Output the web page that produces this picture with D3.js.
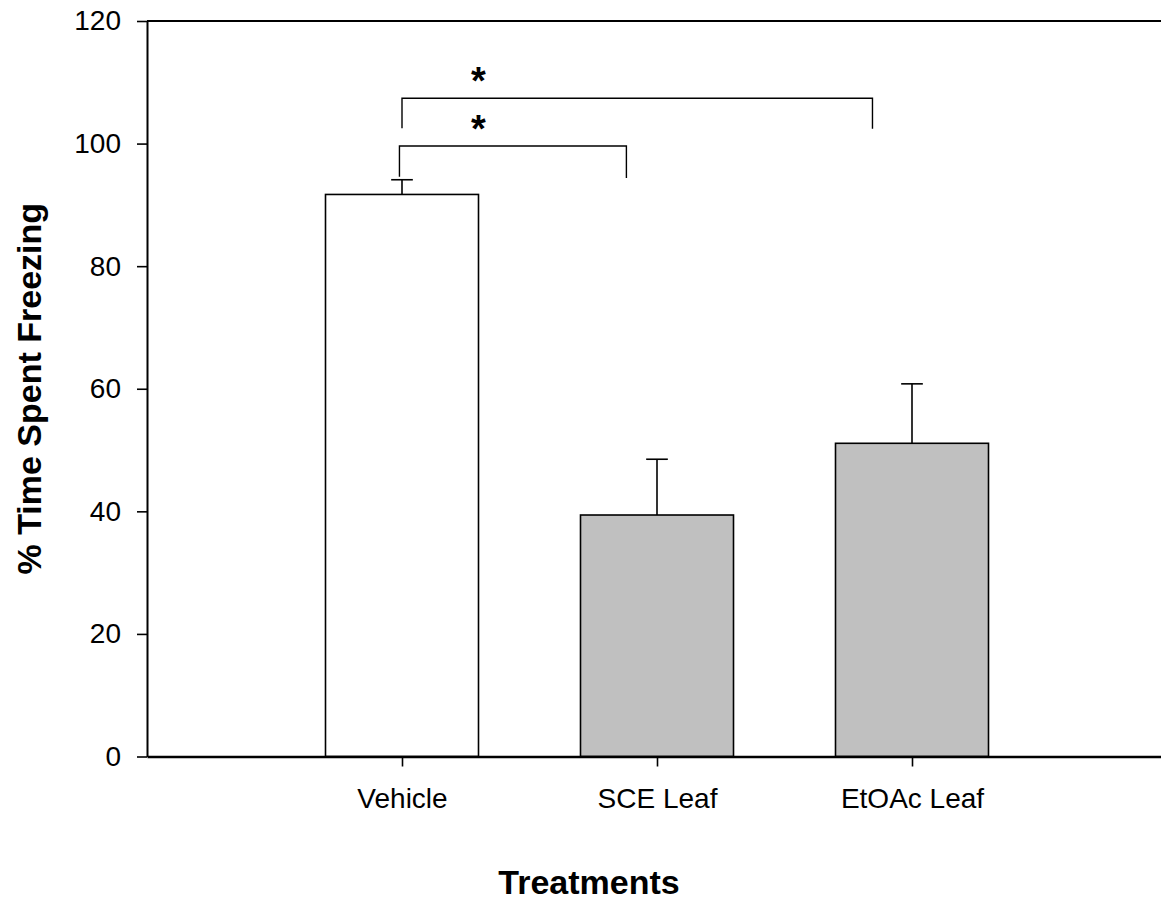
<!DOCTYPE html>
<html>
<head>
<meta charset="utf-8">
<script src="https://cdn.jsdelivr.net/npm/d3@7"></script>
<style>
  html, body { margin: 0; padding: 0; background: #ffffff; }
  svg { display: block; }
  text { font-family: Arial, "Liberation Sans", Helvetica, sans-serif; fill: #000; }
</style>
</head>
<body>
<svg id="chart" width="1161" height="900"></svg>
<script>
// Group means and SEM (upper error bars only)
const categories = ["Vehicle", "SCE Leaf", "EtOAc Leaf"];
const means = [91.7, 39.4, 51.1];
const sem = [2.4, 9.1, 9.7];
const fills = ["#ffffff", "#c0c0c0", "#c0c0c0"];
const yTicks = [0, 20, 40, 60, 80, 100, 120];

// Significance brackets: from group position to end position, bar height, leg ends
const bracketFrom = [0.99, 1.0];
const bracketTo = [1.88, 2.845];
const bracketLevel = [99.6, 107.4];
const bracketLegs = [[94.6, 94.4], [102.5, 102.4]];
const starPos = [1.3, 1.3];
const starLevel = [99.6, 107.4];

const svg = d3.select("#chart");

// Category positions 1..3 on a 0..4 frame (right edge runs past the page)
const x = d3.scaleLinear().domain([0, 4]).range([147, 1167]);
const y = d3.scaleLinear().domain([0, 120]).range([756.5, 21]);

const barW = x(0.6) - x(0);
const capW = x(0.085) - x(0);

// Bars
svg.append("g").selectAll("rect")
  .data(means)
  .join("rect")
  .attr("x", (d, i) => x(i + 1) - barW / 2)
  .attr("y", d => y(d))
  .attr("width", barW)
  .attr("height", d => y(0) - y(d))
  .attr("fill", (d, i) => fills[i])
  .attr("stroke", "#000")
  .attr("stroke-width", 1.6);

// Error bars (upper)
const eg = svg.append("g").attr("stroke", "#000").attr("stroke-width", 1.6);
means.forEach((m, i) => {
  const cx = x(i + 1);
  eg.append("line").attr("x1", cx).attr("x2", cx).attr("y1", y(m)).attr("y2", y(m + sem[i]));
  eg.append("line").attr("x1", cx - capW / 2).attr("x2", cx + capW / 2)
    .attr("y1", y(m + sem[i])).attr("y2", y(m + sem[i]));
});

// Frame top line
svg.append("line")
  .attr("x1", x(0)).attr("x2", x(4))
  .attr("y1", y(120)).attr("y2", y(120))
  .attr("stroke", "#000").attr("stroke-width", 2);

// Y axis
const yAxis = svg.append("g")
  .attr("transform", `translate(${x(0)},0)`)
  .call(d3.axisLeft(y).tickValues(yTicks).tickSize(10).tickPadding(16).tickSizeOuter(0));
yAxis.select(".domain").attr("stroke-width", 2);
yAxis.selectAll(".tick line").attr("stroke-width", 1.6);
yAxis.selectAll(".tick text")
  .style("font-size", "28px")
  .style("font-family", "Arial, 'Liberation Sans', sans-serif")
  .attr("fill", "#000");

// X axis
const xAxis = svg.append("g")
  .attr("transform", `translate(0,${y(0)})`)
  .call(d3.axisBottom(x).tickValues([1, 2, 3]).tickFormat((d) => categories[d - 1])
    .tickSize(10).tickPadding(22).tickSizeOuter(0));
xAxis.select(".domain").attr("stroke-width", 2.4);
xAxis.selectAll(".tick line").attr("stroke-width", 1.6);
xAxis.selectAll(".tick text")
  .style("font-size", "28px")
  .style("font-family", "Arial, 'Liberation Sans', sans-serif")
  .attr("fill", "#000");

// Significance brackets
const bg = svg.append("g").attr("stroke", "#000").attr("stroke-width", 1.4).attr("fill", "none");
bracketFrom.forEach((f, i) => {
  const pts = [
    [x(f), y(bracketLegs[i][0])],
    [x(f), y(bracketLevel[i])],
    [x(bracketTo[i]), y(bracketLevel[i])],
    [x(bracketTo[i]), y(bracketLegs[i][1])]
  ];
  bg.append("path").attr("d", d3.line()(pts));
});
svg.append("g").selectAll("text")
  .data(starPos)
  .join("text")
  .attr("x", d => x(d))
  .attr("y", (d, i) => y(starLevel[i]) - 4)
  .attr("text-anchor", "middle")
  .style("font-size", "38px")
  .style("font-weight", "bold")
  .text("*");

// Axis titles
svg.append("text")
  .attr("x", 589)
  .attr("y", 894)
  .attr("text-anchor", "middle")
  .style("font-size", "34px")
  .style("font-weight", "bold")
  .text("Treatments");

svg.append("text")
  .attr("transform", `translate(41,${(y(0) + y(120)) / 2}) rotate(-90)`)
  .attr("text-anchor", "middle")
  .style("font-size", "34px")
  .style("font-weight", "bold")
  .text("% Time Spent Freezing");
</script>
</body>
</html>
